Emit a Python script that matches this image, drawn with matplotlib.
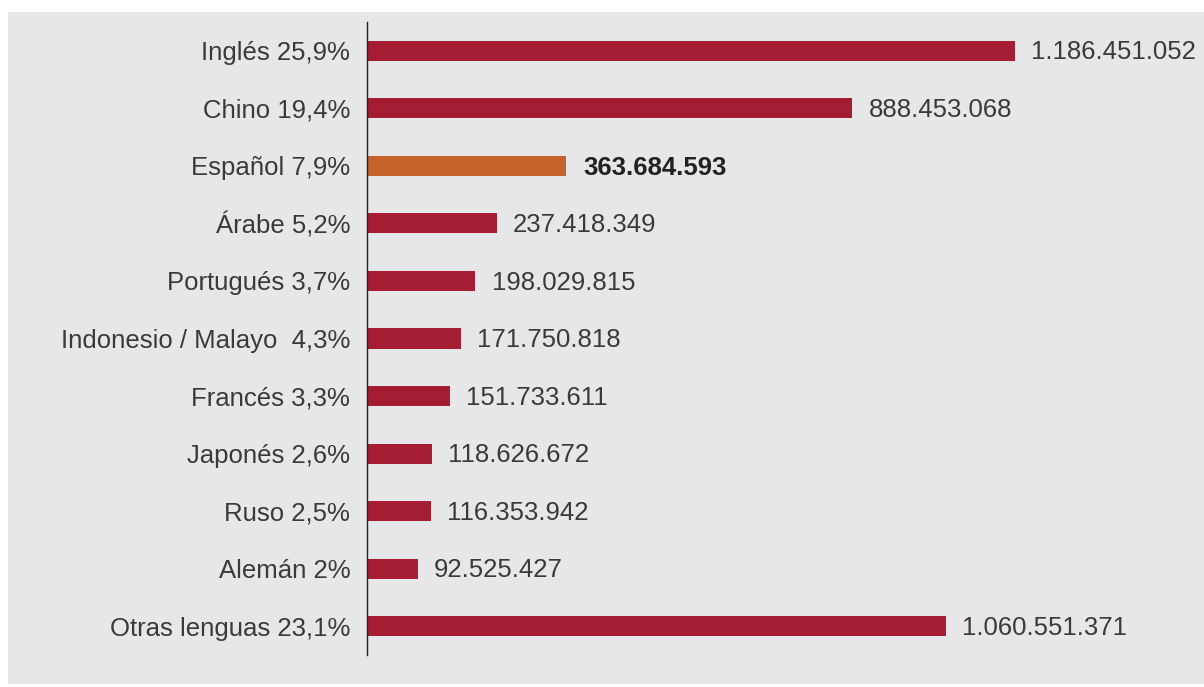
import matplotlib.pyplot as plt
from matplotlib.patches import Rectangle

# hablantes por lengua
languages = ['Inglés 25,9%', 'Chino 19,4%', 'Español 7,9%', 'Árabe 5,2%',
             'Portugués 3,7%', 'Indonesio / Malayo  4,3%', 'Francés 3,3%',
             'Japonés 2,6%', 'Ruso 2,5%', 'Alemán 2%', 'Otras lenguas 23,1%']
speakers = [1186451052, 888453068, 363684593, 237418349, 198029815,
            171750818, 151733611, 118626672, 116353942, 92525427, 1060551371]
value_labels = ['1.186.451.052', '888.453.068', '363.684.593', '237.418.349',
                '198.029.815', '171.750.818', '151.733.611', '118.626.672',
                '116.353.942', '92.525.427', '1.060.551.371']
highlight = 'Español 7,9%'

RED = '#a41d33'
ORANGE = '#c6632a'
TEXT = '#3a3a3a'
BG = '#e7e7e9'

plt.rcParams['font.family'] = ['Liberation Sans', 'DejaVu Sans']

W, H = 1204, 687
fig = plt.figure(figsize=(W / 100, H / 100), dpi=100)
fig.patch.set_facecolor('white')
fig.patches.append(Rectangle((8 / W, 3 / H), 1 - 8 / W, (H - 15) / H,
                             transform=fig.transFigure, facecolor=BG,
                             edgecolor='none', zorder=-10))

ax = fig.add_axes([367 / W, 32 / H, (1190 - 367) / W, 633 / H])
ax.set_facecolor('none')

ypos = list(range(len(languages)))
colors = [ORANGE if lang == highlight else RED for lang in languages]
ax.barh(ypos, speakers, height=0.35, color=colors, zorder=2)

for y, v, lab, lang in zip(ypos, speakers, value_labels, languages):
    bold = lang == highlight
    ax.text(v + (33e6 if bold else 30e6), y + 0.03, lab, va='center', ha='left',
            fontsize=18.5, color='#222222' if bold else TEXT,
            fontweight='bold' if bold else 'normal')

ax.set_xlim(0, 823 / 0.546 * 1e6)
ax.set_ylim(10.5, -0.5)
ax.set_yticks(ypos)
ax.set_yticklabels(languages, fontsize=18.5, color=TEXT)
ax.tick_params(axis='y', length=0, pad=12)
ax.set_xticks([])
for side in ['top', 'right', 'bottom']:
    ax.spines[side].set_visible(False)
ax.spines['left'].set_color('#222222')
ax.spines['left'].set_linewidth(1.0)

fig.savefig('out.png', dpi=100)
